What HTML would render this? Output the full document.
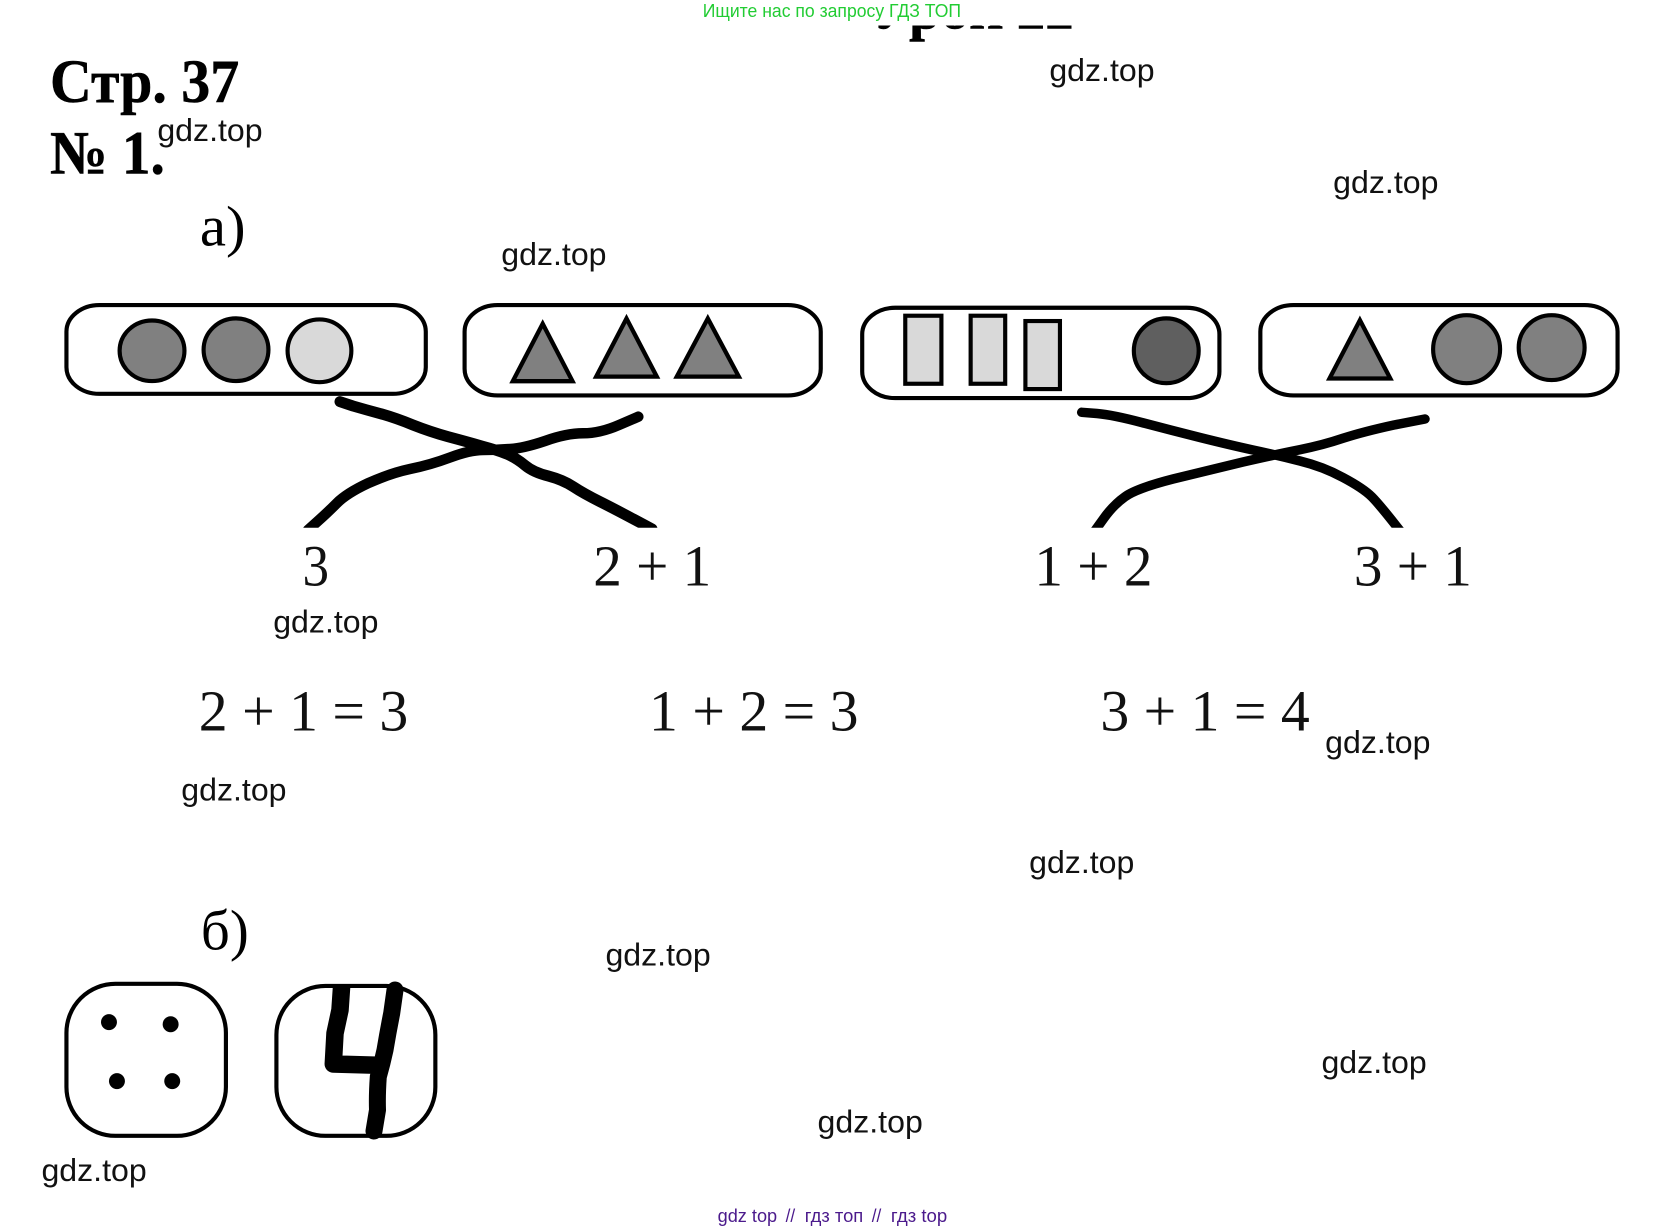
<!DOCTYPE html>
<html lang="ru">
<head>
<meta charset="utf-8">
<title>Стр. 37</title>
<style>
html,body{margin:0;padding:0;background:#fff;width:1667px;height:1231px;overflow:hidden}
svg{display:block}
.w{font:30px "Liberation Sans","Noto Sans CJK SC",sans-serif;fill:#111}
.s{font-family:"Liberation Serif","Noto Serif CJK SC",serif;fill:#000}
.n{font-size:55px;fill:#111}
.h{font-size:58px;font-weight:bold;stroke:#000;stroke-width:.5}
.p{font:17px "Liberation Sans",sans-serif;fill:#4b1a8c}
.pill{fill:#fff;stroke:#000;stroke-width:3.9}
.sh{stroke:#000;stroke-width:3.9;stroke-miterlimit:10}
.ln{fill:none;stroke:#000;stroke-linejoin:round;stroke-linecap:round}
</style>
</head>
<body>
<svg xmlns="http://www.w3.org/2000/svg" width="1667" height="1231" viewBox="0 0 1568 1158" preserveAspectRatio="none">
<defs>
<clipPath id="top"><rect x="0" y="24" width="1568" height="40"/></clipPath>
<clipPath id="cut"><rect x="0" y="380" width="1667" height="147.700"/></clipPath>
</defs>
<rect width="1568" height="1158" fill="#fff"/>

<!-- clipped heading -->
<text class="s h" x="820" y="27" textLength="190" lengthAdjust="spacingAndGlyphs" clip-path="url(#top)">Урок 22</text>

<!-- top banner -->
<text x="661" y="16" textLength="243" lengthAdjust="spacingAndGlyphs" style="font:17px 'Liberation Sans',sans-serif;fill:#22cc33">Ищите нас по запросу ГДЗ ТОП</text>

<!-- headings -->
<text class="s h" x="47" y="96" textLength="178" lengthAdjust="spacingAndGlyphs">Стр. 37</text>
<text class="s h" x="47" y="163" textLength="108" lengthAdjust="spacingAndGlyphs">№ 1.</text>
<text class="s" x="188" y="231" font-size="54" textLength="43" lengthAdjust="spacingAndGlyphs">а)</text>
<text class="s" x="189" y="893" font-size="54" textLength="45" lengthAdjust="spacingAndGlyphs">б)</text>

<!-- pills -->
<rect class="pill" x="62.500" y="287" width="338" height="83.500" rx="31" ry="25"/>
<rect class="pill" x="437" y="287" width="335" height="85" rx="31" ry="25"/>
<rect class="pill" x="811" y="289.500" width="336" height="85" rx="31" ry="25"/>
<rect class="pill" x="1185.500" y="287" width="336" height="85" rx="31" ry="25"/>

<!-- pill 1 -->
<ellipse class="sh" cx="143" cy="330" rx="30.500" ry="28.500" fill="#808080"/>
<ellipse class="sh" cx="222" cy="329" rx="30.500" ry="29.500" fill="#808080"/>
<ellipse class="sh" cx="300.500" cy="330" rx="30" ry="29.500" fill="#d9d9d9" stroke-width="3"/>

<!-- pill 3 -->
<rect class="sh" x="851.500" y="297" width="34" height="64" fill="#d9d9d9"/>
<rect class="sh" x="913" y="297" width="32.500" height="64" fill="#d9d9d9"/>
<rect class="sh" x="964.500" y="302" width="32.500" height="64" fill="#d9d9d9"/>
<ellipse class="sh" cx="1097" cy="330" rx="30.500" ry="30.500" fill="#5f5f5f"/>

<!-- pill 4 circles -->
<ellipse class="sh" cx="1379.500" cy="328.500" rx="31.500" ry="32" fill="#808080"/>
<ellipse class="sh" cx="1459.500" cy="327" rx="31" ry="30.500" fill="#808080"/>

<!-- everything below is in original pixel coordinates -->
<g transform="scale(0.94061 0.94070)">
<g stroke="#000" stroke-width="4.300" stroke-miterlimit="10" fill="#808080">
<polygon points="542.700,323.800 512.800,381.200 572.500,381.200"/>
<polygon points="626.500,318.500 596.200,376.600 656.800,376.600"/>
<polygon points="707.800,318.500 676.800,376.600 738.800,376.600"/>
<polygon points="1359.900,320.200 1329.500,378.500 1390.300,378.500"/>
</g>

<g clip-path="url(#cut)">
<path class="ln" stroke-width="11" d="M340 401.700 L353 406 Q366.700 410 381.700 414 Q396.700 418.300 413 425 Q430 431.700 448 436.700 Q466.700 441.700 481.700 446 Q496.700 450 506.700 454 Q516.700 458.300 525 465.300 Q533.300 472.300 548.300 476 Q563.300 480 573.300 486.700 Q583.300 493.300 600 501.700 Q616.700 510 652 529"/>
<path class="ln" stroke-width="10.500" d="M308 530 L318 521 Q326.700 513.300 336.700 503.300 Q346.700 493.300 368 483.300 Q390 473.300 410 469 Q430 465 450 457.500 Q470 450 483 450 Q496.700 450 510 449 Q523.300 448.300 545 441 Q566.700 433.300 583 433.300 Q600 433.300 619 425 L638.300 416.700"/>
<path class="ln" stroke-width="9.500" d="M1081.700 412.300 L1097 413.500 Q1113.300 415 1141.700 422.500 Q1170 430 1200 437.500 Q1230 445 1253 450 Q1276.700 455 1300 461 Q1323.300 466.700 1343 477.500 Q1363.300 488.300 1371.700 496.700 Q1380 505 1401 532"/>
<path class="ln" stroke-width="9.500" d="M1094 532 L1103.700 518.500 Q1113.300 505 1125 496.700 Q1136.700 488.300 1173 479 Q1210 470 1243 462 Q1276.700 454.300 1300 449.700 Q1323.300 445 1343 438.300 Q1363.300 431.700 1394 425 L1425 419"/>
</g>
</g>

<!-- dice -->
<rect class="pill" x="62.500" y="925.500" width="150" height="143" rx="46" ry="46"/>
<rect class="pill" x="260" y="927.500" width="149.500" height="141" rx="46" ry="46"/>
<ellipse cx="102.500" cy="961.500" rx="7.500" ry="7.500"/>
<ellipse cx="160.500" cy="963.500" rx="7.500" ry="7.500"/>
<ellipse cx="110" cy="1017" rx="7.500" ry="7.500"/>
<ellipse cx="162" cy="1017" rx="7.500" ry="7.500"/>
<g transform="scale(0.94061 0.94070)">
<polyline points="341.700,985 340,1010 335,1033.300 333.300,1064 385,1065.500" fill="none" stroke="#000" stroke-width="17.500" stroke-linejoin="round"/>
<path class="ln" stroke-width="17" d="M395 990 L391.700 1013.300 Q388 1032 385 1050 Q382 1064 378.300 1076.700 Q377 1095 377.500 1110 L374 1131"/>
</g>

<!-- numbers -->
<text class="s n" x="284.500" y="551" textLength="25" lengthAdjust="spacingAndGlyphs">3</text>
<text class="s n" x="558" y="551" textLength="111" lengthAdjust="spacingAndGlyphs">2 + 1</text>
<text class="s n" x="973" y="551" textLength="111" lengthAdjust="spacingAndGlyphs">1 + 2</text>
<text class="s n" x="1273.500" y="551" textLength="111" lengthAdjust="spacingAndGlyphs">3 + 1</text>

<text class="s n" x="187" y="687" textLength="197" lengthAdjust="spacingAndGlyphs">2 + 1 = 3</text>
<text class="s n" x="610.500" y="687" textLength="197" lengthAdjust="spacingAndGlyphs">1 + 2 = 3</text>
<text class="s n" x="1035" y="687" textLength="197" lengthAdjust="spacingAndGlyphs">3 + 1 = 4</text>

<!-- watermarks -->
<text class="w" x="987" y="76.200" textLength="99" lengthAdjust="spacingAndGlyphs">gdz.top</text>
<text class="w" x="148" y="132.700" textLength="99" lengthAdjust="spacingAndGlyphs">gdz.top</text>
<text class="w" x="1254" y="181.700" textLength="99" lengthAdjust="spacingAndGlyphs">gdz.top</text>
<text class="w" x="471.500" y="249.200" textLength="99" lengthAdjust="spacingAndGlyphs">gdz.top</text>
<text class="w" x="257" y="595.200" textLength="99" lengthAdjust="spacingAndGlyphs">gdz.top</text>
<text class="w" x="1246.500" y="708.200" textLength="99" lengthAdjust="spacingAndGlyphs">gdz.top</text>
<text class="w" x="170.500" y="753.200" textLength="99" lengthAdjust="spacingAndGlyphs">gdz.top</text>
<text class="w" x="968" y="821.200" textLength="99" lengthAdjust="spacingAndGlyphs">gdz.top</text>
<text class="w" x="569.500" y="908.200" textLength="99" lengthAdjust="spacingAndGlyphs">gdz.top</text>
<text class="w" x="1243" y="1009.200" textLength="99" lengthAdjust="spacingAndGlyphs">gdz.top</text>
<text class="w" x="769" y="1065.200" textLength="99" lengthAdjust="spacingAndGlyphs">gdz.top</text>
<text class="w" x="39" y="1111.200" textLength="99" lengthAdjust="spacingAndGlyphs">gdz.top</text>

<!-- footer -->
<text class="p" x="675" y="1149.500" textLength="56" lengthAdjust="spacingAndGlyphs">gdz top</text>
<text class="p" x="739" y="1149.500" textLength="9" lengthAdjust="spacingAndGlyphs">//</text>
<text class="p" x="757" y="1149.500" textLength="55" lengthAdjust="spacingAndGlyphs">гдз топ</text>
<text class="p" x="820" y="1149.500" textLength="9" lengthAdjust="spacingAndGlyphs">//</text>
<text class="p" x="838" y="1149.500" textLength="53" lengthAdjust="spacingAndGlyphs">гдз top</text>
</svg>
</body>
</html>
